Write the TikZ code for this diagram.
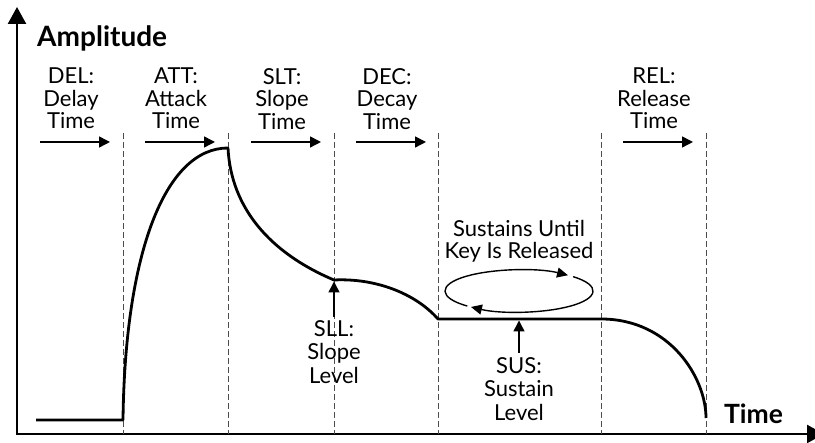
\documentclass[tikz,border=0pt]{standalone}
\usepackage{fontspec}
\setmainfont{Lato}
\usetikzlibrary{arrows.meta}
\begin{document}
\begin{tikzpicture}[x=1pt,y=1pt,
  axis/.style={line width=2.4pt,line join=miter},
  env/.style={line width=2.8pt,line join=round},
  guide/.style={line width=1pt,draw=black!70,dash pattern=on 6pt off 3pt},
  span/.style={line width=1.5pt,-{Triangle[length=11pt,width=11pt]}},
  pointer/.style={line width=1.5pt,-{Triangle[length=11pt,width=11pt]}},
  cycle/.style={line width=1.4pt,-{Triangle[length=11pt,width=10pt]}},
  lbl/.style={font=\fontsize{22}{22.5}\selectfont,align=center,inner sep=0pt,anchor=north},
  lbllow/.style={font=\fontsize{22}{23.5}\selectfont,align=center,inner sep=0pt,anchor=north},
  big/.style={font=\bfseries\fontsize{28}{30}\selectfont,inner sep=0pt,anchor=base west},
  bigb/.style={font=\bfseries\fontsize{26.5}{28}\selectfont,inner sep=0pt,anchor=base west},
]
\useasboundingbox (0,0) rectangle (815,443);
\clip (0,0) rectangle (815,443);

% axes
\coordinate (O) at (17,9);
\coordinate (ytip) at (17,436);
\coordinate (xtip) at (824,9);
\draw[axis,{Triangle[length=17pt,width=18pt]}-{Triangle[length=17pt,width=18pt]}] (ytip) -- (O) -- (xtip);

% guide lines
\foreach \x/\n in {123/g1,228/g2,334/g3,438/g4,601/g5,706/g6}{
  \coordinate (\n top) at (\x,310);
  \coordinate (\n bot) at (\x,9);
  \draw[guide] (\n top) -- (\n bot);
}

% envelope
\coordinate (p0) at (36,23);
\coordinate (p1) at (123,23);
\coordinate (p2) at (228,295);
\coordinate (p3) at (334,163);
\coordinate (p4) at (438,124);
\coordinate (p5) at (601,124);
\coordinate (p6) at (706,25);
\draw[env] (p0) -- (p1)
  .. controls (125,190) and (165,295) .. (p2)
  .. controls (231,235) and (270,190) .. (p3)
  .. controls (375,165) and (415,150) .. (p4)
  -- (p5)
  .. controls (670,124) and (706,65) .. (p6);

% top span arrows
\foreach \s/\e/\n in {40/110/a1,145/215/a2,251/321/a3,356/426/a4,623/693/a5}{
  \coordinate (\n s) at (\s,301);
  \coordinate (\n e) at (\e,301);
  \draw[span] (\n s) -- (\n e);
}

% labels
\node[big] (amp) at (37,396) {Amplitude};
\node[bigb] (time) at (724,19) {Time};
\node[lbl] (del) at (71,375) {DEL:\\Delay\\Time};
\node[lbl] (att) at (176,375) {ATT:\\Attack\\Time};
\node[lbl] (slt) at (282,375) {SLT:\\Slope\\Time};
\node[lbl] (dec) at (387,375) {DEC:\\Decay\\Time};
\node[lbl] (rel) at (654,375) {REL:\\Release\\Time};
\node[lbl] (sust) at (519,223) {Sustains Until\\Key Is Released};
\node[lbllow] (sll) at (334,123) {SLL:\\Slope\\Level};
\node[lbllow] (sus) at (519,86) {SUS:\\Sustain\\Level};

% level pointers
\coordinate (susp) at (519,124);
\draw[pointer,shorten >=1.5pt] ([yshift=3pt]sll.north) -- (p3);
\draw[pointer,shorten >=1.5pt] ([yshift=4pt]sus.north) -- (susp);

% sustain loop
\coordinate (c) at (519,152);
\draw[cycle] ([shift={(43:74 and 21)}]c) arc[start angle=43,end angle=-130.5,x radius=74,y radius=21];
\draw[cycle] ([shift={(225.7:74 and 21)}]c) arc[start angle=225.7,end angle=48.5,x radius=74,y radius=21];
\end{tikzpicture}
\end{document}
